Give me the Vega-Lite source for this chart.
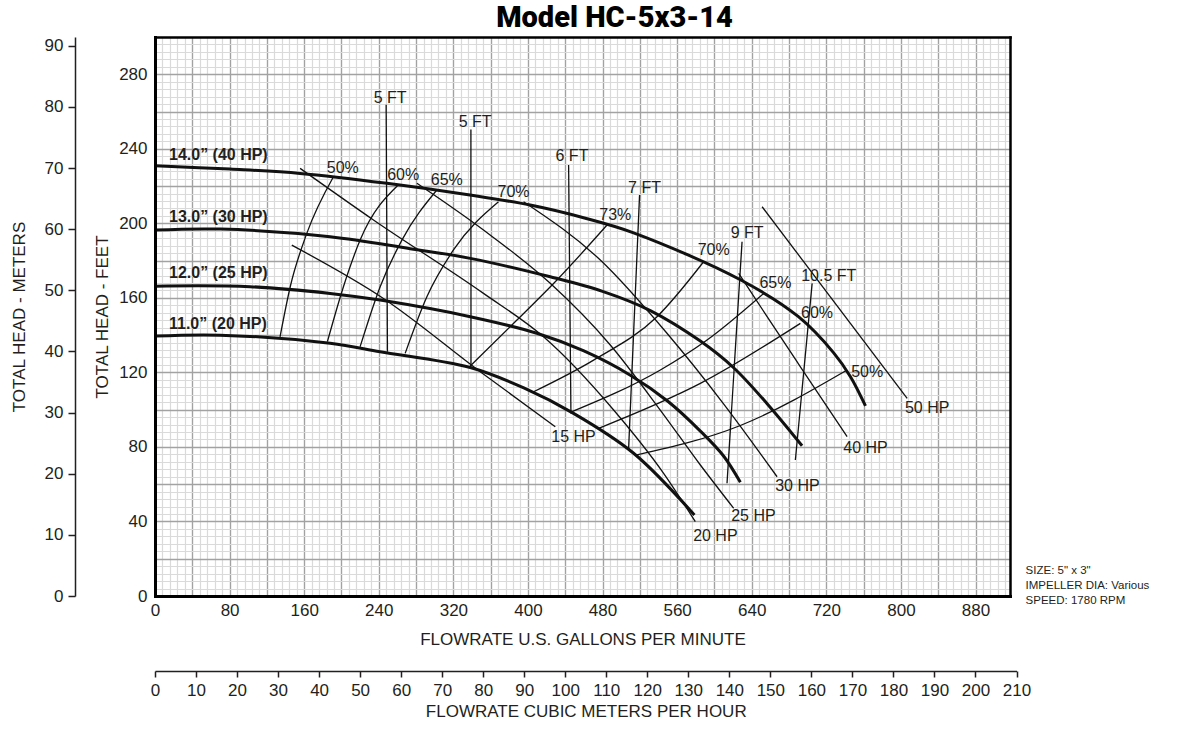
{
  "$schema": "https://vega.github.io/schema/vega-lite/v6.json",
  "width": 855,
  "height": 559,
  "autosize": {"type": "none"},
  "padding": {"left": 155, "top": 37, "right": 172, "bottom": 133},
  "background": "white",
  "title": {"text": "Model HC-5x3-14", "font": "Roboto", "fontSize": 29, "fontWeight": 900, "color": "#000", "anchor": "middle", "frame": "group", "dx": 32, "offset": 4},
  "config": {
    "font": "Liberation Sans",
    "view": {"stroke": null},
    "axis": {"labelFont": "Liberation Sans", "titleFont": "Liberation Sans", "labelFontSize": 17, "titleFontSize": 17, "titleFontWeight": "normal", "labelColor": "#231f20", "titleColor": "#231f20", "labelOverlap": false, "labelFlush": false}
  },
  "datasets": {
    "lines": [
      {"s":"i14","k":"imp","q":0,"h":230.9},{"s":"i14","k":"imp","q":80.5,"h":229.1},{"s":"i14","k":"imp","q":155.6,"h":226.8},{"s":"i14","k":"imp","q":248.7,"h":221.5},{"s":"i14","k":"imp","q":337.8,"h":215.2},{"s":"i14","k":"imp","q":402.4,"h":209.8},{"s":"i14","k":"imp","q":459.6,"h":203.0},{"s":"i14","k":"imp","q":513.3,"h":194.9},{"s":"i14","k":"imp","q":627.8,"h":169.7},{"s":"i14","k":"imp","q":690.1,"h":149.9},{"s":"i14","k":"imp","q":727.9,"h":130.5},{"s":"i14","k":"imp","q":745.9,"h":117.7},{"s":"i14","k":"imp","q":762.0,"h":102.0},
      {"s":"i13","k":"imp","q":0,"h":196.4},{"s":"i13","k":"imp","q":69.8,"h":196.9},{"s":"i13","k":"imp","q":187.8,"h":192.8},{"s":"i13","k":"imp","q":273.7,"h":186.4},{"s":"i13","k":"imp","q":338.1,"h":181.2},{"s":"i13","k":"imp","q":423.9,"h":171.3},{"s":"i13","k":"imp","q":480.0,"h":163.5},{"s":"i13","k":"imp","q":531.2,"h":153.2},{"s":"i13","k":"imp","q":584.9,"h":136.8},{"s":"i13","k":"imp","q":620.6,"h":122.5},{"s":"i13","k":"imp","q":656.5,"h":103.2},{"s":"i13","k":"imp","q":694.0,"h":80.6},
      {"s":"i12","k":"imp","q":0,"h":166.3},{"s":"i12","k":"imp","q":102,"h":166.0},{"s":"i12","k":"imp","q":187.8,"h":162.4},{"s":"i12","k":"imp","q":241.5,"h":158.8},{"s":"i12","k":"imp","q":338.1,"h":149.9},{"s":"i12","k":"imp","q":409.6,"h":141.0},{"s":"i12","k":"imp","q":460.0,"h":131.5},{"s":"i12","k":"imp","q":509.8,"h":118.5},{"s":"i12","k":"imp","q":550.0,"h":104.5},{"s":"i12","k":"imp","q":584.9,"h":88.5},{"s":"i12","k":"imp","q":610.0,"h":75.0},{"s":"i12","k":"imp","q":627.8,"h":61.0},
      {"s":"i11","k":"imp","q":0,"h":139.5},{"s":"i11","k":"imp","q":69.8,"h":140.0},{"s":"i11","k":"imp","q":187.8,"h":135.6},{"s":"i11","k":"imp","q":241.5,"h":131.1},{"s":"i11","k":"imp","q":338.1,"h":122.6},{"s":"i11","k":"imp","q":395.0,"h":111.8},{"s":"i11","k":"imp","q":448.9,"h":98.0},{"s":"i11","k":"imp","q":513.3,"h":76.6},{"s":"i11","k":"imp","q":578.5,"h":43.5},
      {"s":"e50L","k":"curve","q":134.1,"h":139.1},{"s":"e50L","k":"curve","q":145.3,"h":166.5},{"s":"e50L","k":"curve","q":162.8,"h":194.6},{"s":"e50L","k":"curve","q":191.4,"h":225.0},
      {"s":"e60L","k":"curve","q":184.9,"h":136.5},{"s":"e60L","k":"curve","q":202.1,"h":166.0},{"s":"e60L","k":"curve","q":220.0,"h":191.0},{"s":"e60L","k":"curve","q":261.1,"h":220.7},
      {"s":"e65L","k":"curve","q":220.0,"h":133.8},{"s":"e65L","k":"curve","q":241.5,"h":166.0},{"s":"e65L","k":"curve","q":264.8,"h":191.0},{"s":"e65L","k":"curve","q":302.3,"h":217.9},
      {"s":"e70L","k":"curve","q":268.3,"h":130.2},{"s":"e70L","k":"curve","q":291.6,"h":160.6},{"s":"e70L","k":"curve","q":320.1,"h":185.7},{"s":"e70L","k":"curve","q":368.4,"h":211.6},
      {"s":"e73","k":"curve","q":338.1,"h":123.4},{"s":"e73","k":"curve","q":388.2,"h":148.1},{"s":"e73","k":"curve","q":431.1,"h":169.6},{"s":"e73","k":"curve","q":484.8,"h":199.1},
      {"s":"e70R","k":"curve","q":406.0,"h":109.6},{"s":"e70R","k":"curve","q":470.4,"h":126.6},{"s":"e70R","k":"curve","q":538.4,"h":149.9},{"s":"e70R","k":"curve","q":588.4,"h":179.4},
      {"s":"e65R","k":"curve","q":447.2,"h":98.9},{"s":"e65R","k":"curve","q":542.0,"h":121.3},{"s":"e65R","k":"curve","q":592.1,"h":137.4},{"s":"e65R","k":"curve","q":652.8,"h":162.4},
      {"s":"e60R","k":"curve","q":475.8,"h":90.0},{"s":"e60R","k":"curve","q":584.9,"h":114.1},{"s":"e60R","k":"curve","q":692.2,"h":146.3},
      {"s":"e50R","k":"curve","q":517.0,"h":75.7},{"s":"e50R","k":"curve","q":627.8,"h":91.5},{"s":"e50R","k":"curve","q":742.3,"h":121.3},
      {"s":"hp15","k":"curve","q":146.7,"h":188.3},{"s":"hp15","k":"curve","q":245.0,"h":159.7},{"s":"hp15","k":"curve","q":348.8,"h":120.4},{"s":"hp15","k":"curve","q":429.3,"h":90.8},
      {"s":"hp20","k":"curve","q":155.6,"h":229.5},{"s":"hp20","k":"curve","q":234.3,"h":201.8},{"s":"hp20","k":"curve","q":352.3,"h":162.4},{"s":"hp20","k":"curve","q":416.7,"h":139.1},{"s":"hp20","k":"curve","q":491.9,"h":99.8},{"s":"hp20","k":"curve","q":545.5,"h":65.8},{"s":"hp20","k":"curve","q":579.5,"h":39.9},
      {"s":"hp25","k":"curve","q":280.9,"h":221.5},{"s":"hp25","k":"curve","q":352.3,"h":196.4},{"s":"hp25","k":"curve","q":423.9,"h":167.8},{"s":"hp25","k":"curve","q":488.3,"h":134.7},{"s":"hp25","k":"curve","q":541.9,"h":99.8},{"s":"hp25","k":"curve","q":584.9,"h":70.3},{"s":"hp25","k":"curve","q":620.6,"h":47.1},
      {"s":"hp30","k":"curve","q":395.3,"h":211.6},{"s":"hp30","k":"curve","q":477.6,"h":180.3},{"s":"hp30","k":"curve","q":549.1,"h":141.0},{"s":"hp30","k":"curve","q":610.0,"h":103.0},{"s":"hp30","k":"curve","q":667.2,"h":64.0},
      {"s":"hp40","k":"curve","q":626.0,"h":173.2},{"s":"hp40","k":"curve","q":656.5,"h":149.9},{"s":"hp40","k":"curve","q":692.2,"h":123.0},{"s":"hp40","k":"curve","q":742.3,"h":85.5},
      {"s":"hp50","k":"curve","q":651.1,"h":208.9},{"s":"hp50","k":"curve","q":806.7,"h":106.1},
      {"s":"n5a","k":"straight","q":247.9,"h":263.7},{"s":"n5a","k":"straight","q":249.3,"h":131.1},
      {"s":"n5b","k":"straight","q":338.8,"h":250.4},{"s":"n5b","k":"straight","q":338.9,"h":123.0},
      {"s":"n6","k":"straight","q":443.6,"h":231.3},{"s":"n6","k":"straight","q":446.1,"h":98.0},
      {"s":"n7","k":"straight","q":519.7,"h":215.2},{"s":"n7","k":"straight","q":507.9,"h":78.3},
      {"s":"n9","k":"straight","q":629.6,"h":190.1},{"s":"n9","k":"straight","q":613.5,"h":60.5},
      {"s":"n105","k":"straight","q":704.8,"h":167.8},{"s":"n105","k":"straight","q":686.8,"h":73.0}
    ],
    "labels": [
      {"k":"c","t":"5 FT","q":252.2,"h":267.0},
      {"k":"c","t":"5 FT","q":343.4,"h":254.5},
      {"k":"c","t":"6 FT","q":447.2,"h":236.4},
      {"k":"c","t":"7 FT","q":525.0,"h":218.8},
      {"k":"c","t":"9 FT","q":635.0,"h":194.9},
      {"k":"c","t":"10.5 FT","q":722.6,"h":171.7},
      {"k":"c","t":"50%","q":201.4,"h":229.8},
      {"k":"c","t":"60%","q":266.2,"h":225.9},
      {"k":"c","t":"65%","q":313.0,"h":223.2},
      {"k":"c","t":"70%","q":384.5,"h":217.0},
      {"k":"c","t":"73%","q":493.7,"h":204.4},
      {"k":"c","t":"70%","q":599.2,"h":185.7},
      {"k":"c","t":"65%","q":665.4,"h":167.8},
      {"k":"c","t":"60%","q":710.1,"h":151.7},
      {"k":"c","t":"50%","q":763.8,"h":120.4},
      {"k":"c","t":"15 HP","q":448.9,"h":85.5},
      {"k":"c","t":"20 HP","q":601.0,"h":32.4},
      {"k":"c","t":"25 HP","q":641.8,"h":42.9},
      {"k":"c","t":"30 HP","q":689.0,"h":59.0},
      {"k":"c","t":"40 HP","q":762.0,"h":79.3},
      {"k":"c","t":"50 HP","q":828.2,"h":100.7},
      {"k":"b","t":"14.0” (40 HP)","q":15,"h":236.6},
      {"k":"b","t":"13.0” (30 HP)","q":15,"h":203.2},
      {"k":"b","t":"12.0” (25 HP)","q":15,"h":173.6},
      {"k":"b","t":"11.0” (20 HP)","q":15,"h":146.1},
      {"k":"i","t":"SIZE: 5\" x 3\"","q":933.7,"h":13.4},
      {"k":"i","t":"IMPELLER DIA: Various","q":933.7,"h":5.4},
      {"k":"i","t":"SPEED: 1780 RPM","q":933.7,"h":-2.7}
    ]
  },
  "layer": [
    {
      "layer": [
        {
          "data": {"name": "lines"},
          "mark": {"type": "point", "opacity": 0},
          "encoding": {
            "x": {"field": "q", "type": "quantitative", "scale": {"domain": [0, 917], "nice": false},
              "axis": {"orient": "bottom", "values": [0,8,16,24,32,40,48,56,64,72,80,88,96,104,112,120,128,136,144,152,160,168,176,184,192,200,208,216,224,232,240,248,256,264,272,280,288,296,304,312,320,328,336,344,352,360,368,376,384,392,400,408,416,424,432,440,448,456,464,472,480,488,496,504,512,520,528,536,544,552,560,568,576,584,592,600,608,616,624,632,640,648,656,664,672,680,688,696,704,712,720,728,736,744,752,760,768,776,784,792,800,808,816,824,832,840,848,856,864,872,880,888,896,904,912],
                "grid": true, "gridColor": "#dadada", "gridWidth": 1.2, "labels": false, "ticks": false, "tickSize": 0, "domain": false, "title": null}},
            "y": {"field": "h", "type": "quantitative", "scale": {"domain": [0, 300], "nice": false},
              "axis": {"orient": "left", "values": [0,4,8,12,16,20,24,28,32,36,40,44,48,52,56,60,64,68,72,76,80,84,88,92,96,100,104,108,112,116,120,124,128,132,136,140,144,148,152,156,160,164,168,172,176,180,184,188,192,196,200,204,208,212,216,220,224,228,232,236,240,244,248,252,256,260,264,268,272,276,280,284,288,292,296],
                "grid": true, "gridColor": "#dadada", "gridWidth": 1.2, "labels": false, "ticks": false, "tickSize": 0, "domain": false, "title": null}}
          }
        },
        {
          "data": {"name": "lines"},
          "mark": {"type": "point", "opacity": 0},
          "encoding": {
            "x": {"field": "q", "type": "quantitative", "scale": {"domain": [0, 917], "nice": false},
              "axis": {"orient": "bottom", "values": [0,40,80,120,160,200,240,280,320,360,400,440,480,520,560,600,640,680,720,760,800,840,880],
                "labelExpr": "datum.value % 80 === 0 ? datum.label : ''",
                "grid": true, "gridColor": "#a2a2a2", "gridWidth": 1.3, "ticks": false, "tickSize": 0, "domain": false, "labelPadding": 6,
                "title": "FLOWRATE U.S. GALLONS PER MINUTE", "titlePadding": 13}},
            "y": {"field": "h", "type": "quantitative", "scale": {"domain": [0, 300], "nice": false},
              "axis": {"orient": "left", "values": [0,20,40,60,80,100,120,140,160,180,200,220,240,260,280],
                "labelExpr": "datum.value % 40 === 0 ? datum.label : ''",
                "grid": true, "gridColor": "#a2a2a2", "gridWidth": 1.3, "ticks": false, "tickSize": 0, "domain": false, "labelPadding": 8,
                "title": "TOTAL HEAD - FEET", "titlePadding": 7}}
          }
        },
        {
          "data": {"name": "lines"},
          "transform": [{"filter": "datum.k === 'imp'"}],
          "mark": {"type": "line", "interpolate": "catmull-rom", "color": "#111", "strokeWidth": 3},
          "encoding": {
            "x": {"field": "q", "type": "quantitative", "scale": {"domain": [0, 917], "nice": false}, "axis": null},
            "y": {"field": "h", "type": "quantitative", "scale": {"domain": [0, 300], "nice": false}, "axis": null},
            "detail": {"field": "s"}
          }
        },
        {
          "data": {"name": "lines"},
          "transform": [{"filter": "datum.k === 'curve'"}],
          "mark": {"type": "line", "interpolate": "monotone", "color": "#111", "strokeWidth": 1.3},
          "encoding": {
            "x": {"field": "q", "type": "quantitative", "scale": {"domain": [0, 917], "nice": false}, "axis": null},
            "y": {"field": "h", "type": "quantitative", "scale": {"domain": [0, 300], "nice": false}, "axis": null},
            "detail": {"field": "s"}
          }
        },
        {
          "data": {"name": "lines"},
          "transform": [{"filter": "datum.k === 'straight'"}],
          "mark": {"type": "line", "interpolate": "linear", "color": "#111", "strokeWidth": 1.3},
          "encoding": {
            "x": {"field": "q", "type": "quantitative", "scale": {"domain": [0, 917], "nice": false}, "axis": null},
            "y": {"field": "h", "type": "quantitative", "scale": {"domain": [0, 300], "nice": false}, "axis": null},
            "detail": {"field": "s"}
          }
        },
        {
          "data": {"name": "labels"},
          "transform": [{"filter": "datum.k === 'c'"}],
          "mark": {"type": "text", "font": "Liberation Sans", "fontSize": 16, "color": "#231f20", "align": "center", "baseline": "middle"},
          "encoding": {
            "x": {"field": "q", "type": "quantitative", "scale": {"domain": [0, 917], "nice": false}, "axis": null},
            "y": {"field": "h", "type": "quantitative", "scale": {"domain": [0, 300], "nice": false}, "axis": null},
            "text": {"field": "t"}
          }
        },
        {
          "data": {"name": "labels"},
          "transform": [{"filter": "datum.k === 'b'"}],
          "mark": {"type": "text", "font": "Liberation Sans", "fontSize": 16, "fontWeight": "bold", "color": "#231f20", "align": "left", "baseline": "middle"},
          "encoding": {
            "x": {"field": "q", "type": "quantitative", "scale": {"domain": [0, 917], "nice": false}, "axis": null},
            "y": {"field": "h", "type": "quantitative", "scale": {"domain": [0, 300], "nice": false}, "axis": null},
            "text": {"field": "t"}
          }
        },
        {
          "data": {"name": "labels"},
          "transform": [{"filter": "datum.k === 'i'"}],
          "mark": {"type": "text", "font": "Liberation Sans", "fontSize": 11.5, "color": "#231f20", "align": "left", "baseline": "middle"},
          "encoding": {
            "x": {"field": "q", "type": "quantitative", "scale": {"domain": [0, 917], "nice": false}, "axis": null},
            "y": {"field": "h", "type": "quantitative", "scale": {"domain": [0, 300], "nice": false}, "axis": null},
            "text": {"field": "t"}
          }
        },
        {
          "data": {"name": "lines"},
          "mark": {"type": "point", "opacity": 0},
          "encoding": {
            "x": {"field": "q", "type": "quantitative", "scale": {"domain": [0, 917], "nice": false},
              "axis": {"orient": "top", "values": [], "grid": false, "labels": false, "ticks": false, "tickSize": 0, "domain": true, "domainColor": "#000", "domainWidth": 2.5, "domainCap": "square", "title": null, "zindex": 2}},
            "y": {"field": "h", "type": "quantitative", "scale": {"domain": [0, 300], "nice": false},
              "axis": {"orient": "right", "values": [], "grid": false, "labels": false, "ticks": false, "tickSize": 0, "domain": true, "domainColor": "#000", "domainWidth": 2.5, "domainCap": "square", "title": null, "zindex": 2}}
          }
        },
        {
          "data": {"name": "lines"},
          "mark": {"type": "point", "opacity": 0},
          "encoding": {
            "x": {"field": "q", "type": "quantitative", "scale": {"domain": [0, 917], "nice": false},
              "axis": {"orient": "bottom", "values": [], "grid": false, "labels": false, "ticks": false, "tickSize": 0, "domain": true, "domainColor": "#000", "domainWidth": 3, "domainCap": "square", "title": null, "zindex": 2}},
            "y": {"field": "h", "type": "quantitative", "scale": {"domain": [0, 300], "nice": false},
              "axis": {"orient": "left", "values": [], "grid": false, "labels": false, "ticks": false, "tickSize": 0, "domain": true, "domainColor": "#000", "domainWidth": 3, "domainCap": "square", "title": null, "zindex": 2}}
          }
        }
      ],
      "resolve": {"axis": {"x": "independent", "y": "independent"}}
    },
    {
      "data": {"values": [{"m": 0}, {"m": 90}]},
      "mark": {"type": "point", "opacity": 0},
      "encoding": {
        "y": {"field": "m", "type": "quantitative", "scale": {"domain": [0, 91.44], "nice": false},
          "axis": {"orient": "left", "offset": 80, "values": [0,10,20,30,40,50,60,70,80,90], "grid": false,
            "domainColor": "#231f20", "domainWidth": 1.5, "tickColor": "#231f20", "tickWidth": 1.5, "tickSize": 7, "labelPadding": 5,
            "title": "TOTAL HEAD - METERS", "titlePadding": 16}}
      }
    },
    {
      "data": {"values": [{"c": 0}, {"c": 210}]},
      "mark": {"type": "point", "opacity": 0},
      "encoding": {
        "x": {"field": "c", "type": "quantitative", "scale": {"domain": [0, 210], "range": [0, 861.5], "nice": false},
          "axis": {"orient": "bottom", "offset": 75, "values": [0,10,20,30,40,50,60,70,80,90,100,110,120,130,140,150,160,170,180,190,200,210], "grid": false,
            "domainColor": "#231f20", "domainWidth": 1.5, "tickColor": "#231f20", "tickWidth": 1.5, "tickSize": 6, "labelPadding": 5,
            "title": "FLOWRATE CUBIC METERS PER HOUR", "titlePadding": 5}}
      }
    }
  ],
  "resolve": {"scale": {"x": "independent", "y": "independent"}, "axis": {"x": "independent", "y": "independent"}}
}
